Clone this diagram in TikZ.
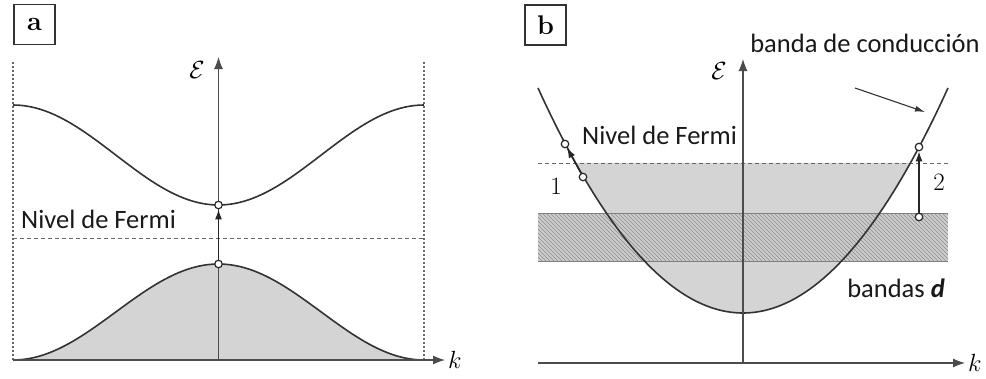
\documentclass[tikz,border=0pt]{standalone}
\usepackage{fontspec}
\newfontfamily\labelfont{Carlito}
\usetikzlibrary{arrows.meta, positioning, calc}
\tikzset{
    band/.style={draw=black!80, line width=1.6pt},
    axis/.style={draw=black!70, line width=1.1pt, -{Latex[length=12pt, width=9pt]}},
    fermi/.style={draw=black!60, line width=1pt, dash pattern=on 4pt off 3pt},
    zone/.style={draw=black!60, line width=1.5pt, dash pattern=on 1.5pt off 2.5pt},
    dot/.style={circle, draw=black!85, fill=white, line width=1.2pt, inner sep=0pt, minimum size=7.5pt},
    jump/.style={-{Latex[length=10pt, width=7pt]}, line width=1.4pt, draw=black!85},
    pointer/.style={-{Latex[length=10pt, width=6pt]}, line width=1.1pt, draw=black!80},
    tagbox/.style={rectangle, draw=black!80, line width=1.3pt, minimum width=41pt, minimum height=40pt, font=\fontsize{27}{27}\selectfont\bfseries},
    txt/.style={font=\fontsize{26.5}{26.5}\selectfont\labelfont, text=black!90, inner sep=0pt},
    num/.style={font=\fontsize{25}{25}\selectfont, inner sep=0pt},
    sym/.style={font=\fontsize{25}{25}\selectfont, inner sep=0pt},
    filled/.style={fill=black!17},
}

\begin{document}
\begin{tikzpicture}[x=1pt, y=-1pt]
        \useasboundingbox (0,0) rectangle (986,378);

        % Panel a: semiconductor
        \node[tagbox] (taga) at (34.5,24.5) {a};
        \fill[filled] (13,360) -- plot[domain=13:424, samples=90] (\x, {312-48*cos((\x-218.5)/205.5*180)}) -- (424,360) -- cycle;
        \draw[zone] (13,62) -- (13,360);
        \draw[zone] (424,62) -- (424,360);
        \draw[fermi] (13,238) -- (424,238);
        \draw[band] plot[domain=13:424, samples=90] (\x, {312-48*cos((\x-218.5)/205.5*180)});
        \draw[band] plot[domain=13:424, samples=90] (\x, {155+50*cos((\x-218.5)/205.5*180)});
        \coordinate (ax0) at (13,360);
        \coordinate (axk) at (445,360);
        \coordinate (ay0) at (218.5,360);
        \coordinate (aye) at (218.5,57);
        \draw[axis] (ax0) -- (axk);
        \draw[axis] (ay0) -- (aye);
        \node[sym, right=3pt of axk] (ka) {$k$};
        \node[sym] (ea) at (197,70) {$\mathcal{E}$};
        \node[txt, anchor=west] (fermia) at (21,219) {Nivel de Fermi};
        \node[dot] (vtop) at (218.5,264) {};
        \node[dot] (cbot) at (218.5,205) {};
        \draw[jump] (vtop) -- (cbot);

        % Panel b: metal
        \node[tagbox] (tagb) at (545.5,25) {b};
        \fill[filled] plot[domain=575.6:910.4, samples=90] (\x, {313-225*((\x-743)/205)^2}) -- cycle;
        \begin{scope}
            \fill[black!20] (538,213) rectangle (948,261);
            \clip (538,213) rectangle (948,261);
            \foreach \s in {490,494,...,950}
                \draw[black!45, line width=0.6pt] (\s,213) -- ++(48,48);
        \end{scope}
        \draw[black!50, line width=1pt] (538,213) -- (948,213);
        \draw[black!50, line width=1pt] (538,261) -- (948,261);
        \draw[fermi] (538,163) -- (948,163);
        \draw[band] plot[domain=538:948, samples=90] (\x, {313-225*((\x-743)/205)^2});
        \coordinate (bx0) at (538,363);
        \coordinate (bxk) at (965,363);
        \coordinate (by0) at (743,363);
        \coordinate (bye) at (743,59);
        \draw[axis] (bx0) -- (bxk);
        \draw[axis] (by0) -- (bye);
        \node[sym, right=3pt of bxk] (kb) {$k$};
        \node[sym] (eb) at (719,71) {$\mathcal{E}$};
        \node[txt, anchor=west] (fermib) at (582,135) {Nivel de Fermi};
        \node[txt] (cond) at (865,43) {banda de conducción};
        \node[txt] (dband) at (896,288) {bandas \textbf{\textit{d}}};
        \coordinate (pstart) at (855,88);
        \coordinate (pend) at (925,112);
        \draw[pointer] (pstart) -- (pend);

        % Transitions 1 and 2
        \node[dot] (oneb) at (583,177) {};
        \node[dot] (onet) at (565,144) {};
        \draw[jump] (oneb) -- (onet);
        \node[num] (one) at (556,186) {1};
        \node[dot] (twob) at (919,217) {};
        \node[dot] (twot) at (919,147) {};
        \draw[jump] (twob) -- (twot);
        \node[num] (two) at (939,182) {2};
\end{tikzpicture}
\end{document}
